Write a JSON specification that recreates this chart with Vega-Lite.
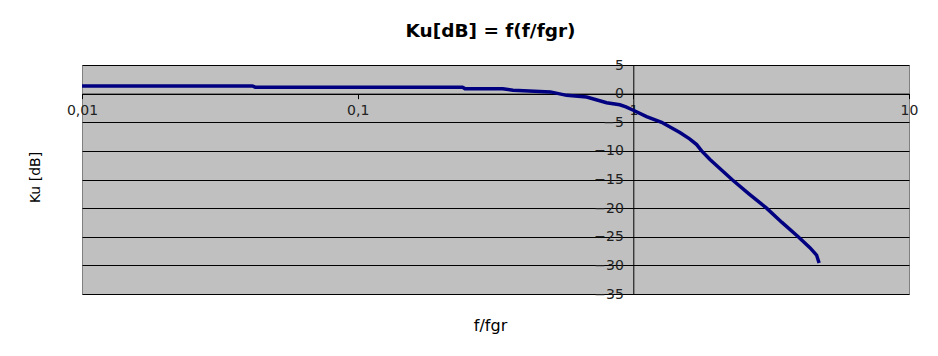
{
  "$schema": "https://vega.github.io/schema/vega-lite/v6.json",
  "width": 827,
  "height": 229,
  "autosize": {"type": "none"},
  "padding": {"left": 82, "top": 65, "right": 29, "bottom": 62},
  "background": "white",
  "config": {
    "view": {"fill": "#C0C0C0", "stroke": "#808080", "strokeWidth": 1},
    "font": "DejaVu Sans"
  },
  "title": {
    "text": "Ku[dB] = f(f/fgr)",
    "frame": "group",
    "anchor": "middle",
    "font": "DejaVu Sans",
    "fontSize": 18.5,
    "fontWeight": "bold",
    "color": "#000000",
    "baseline": "alphabetic",
    "offset": 28,
    "dy": 25,
    "dx": -5
  },
  "data": {
    "values": [
      {"f": 0.01, "ku": 1.33},
      {"f": 0.0415, "ku": 1.33},
      {"f": 0.0425, "ku": 1.12},
      {"f": 0.24, "ku": 1.1},
      {"f": 0.245, "ku": 0.87},
      {"f": 0.336, "ku": 0.85},
      {"f": 0.366, "ku": 0.58},
      {"f": 0.5, "ku": 0.3},
      {"f": 0.573, "ku": -0.3},
      {"f": 0.677, "ku": -0.6},
      {"f": 0.8, "ku": -1.6},
      {"f": 0.893, "ku": -1.95},
      {"f": 0.94, "ku": -2.3},
      {"f": 1.0, "ku": -2.9},
      {"f": 1.117, "ku": -4.0},
      {"f": 1.266, "ku": -5.0},
      {"f": 1.475, "ku": -6.8},
      {"f": 1.6, "ku": -7.9},
      {"f": 1.697, "ku": -8.9},
      {"f": 1.769, "ku": -10.0},
      {"f": 1.897, "ku": -11.5},
      {"f": 2.279, "ku": -15.0},
      {"f": 2.626, "ku": -17.5},
      {"f": 3.043, "ku": -20.0},
      {"f": 3.46, "ku": -22.5},
      {"f": 3.963, "ku": -25.0},
      {"f": 4.37, "ku": -26.9},
      {"f": 4.62, "ku": -28.2},
      {"f": 4.72, "ku": -29.6}
    ]
  },
  "mark": {"type": "line", "color": "#000080", "strokeWidth": 3.5, "clip": true},
  "encoding": {
    "x": {
      "field": "f",
      "type": "quantitative",
      "scale": {"type": "log", "domain": [0.01, 10], "nice": false},
      "axis": {
        "orient": "bottom",
        "offset": -200.375,
        "values": [0.01, 0.1, 1, 10],
        "labelExpr": "replace(toString(datum.value), '.', ',')",
        "grid": false,
        "domainColor": "#000000",
        "tickColor": "#000000",
        "tickSize": 5,
        "labelPadding": 5,
        "labelFont": "DejaVu Sans",
        "labelFontSize": 14,
        "labelColor": "#222222",
        "labelFlush": false,
        "labelOverlap": false,
        "title": "f/fgr",
        "titleFont": "DejaVu Sans",
        "titleFontSize": 16,
        "titleFontWeight": "normal",
        "titleColor": "#000000",
        "titleX": 408,
        "titleY": 232,
        "titleBaseline": "middle",
        "titleAlign": "center"
      }
    },
    "y": {
      "field": "ku",
      "type": "quantitative",
      "scale": {"domain": [-35, 5], "nice": false, "zero": false},
      "axis": {
        "orient": "left",
        "offset": -551.3,
        "values": [-35, -30, -25, -20, -15, -10, -5, 0, 5],
        "grid": true,
        "gridColor": "#000000",
        "gridWidth": 1,
        "gridOpacity": 1,
        "domainColor": "#000000",
        "tickColor": "#000000",
        "tickSize": 5,
        "labelPadding": 5,
        "labelFont": "DejaVu Sans",
        "labelFontSize": 14,
        "labelColor": "#222222",
        "labelFlush": false,
        "labelOverlap": false,
        "title": "Ku [dB]",
        "titleFont": "DejaVu Sans",
        "titleFontSize": 14,
        "titleFontWeight": "normal",
        "titleColor": "#000000",
        "titleX": -598,
        "titleY": 112,
        "titleAngle": -90,
        "titleBaseline": "middle",
        "titleAlign": "center"
      }
    }
  }
}
